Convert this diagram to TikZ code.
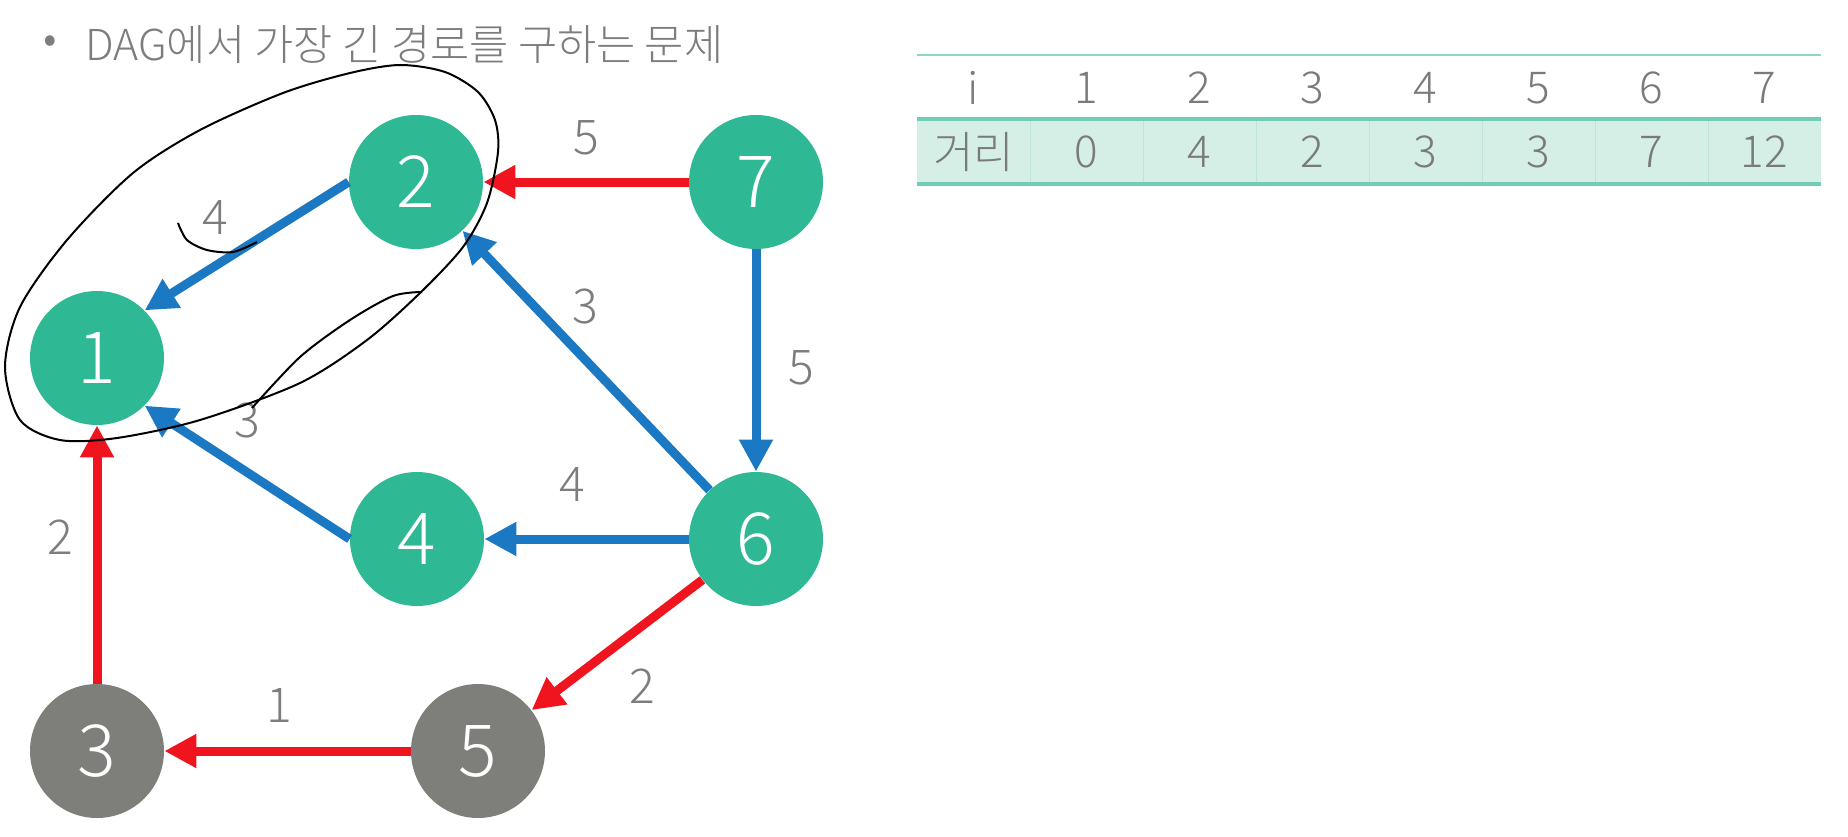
\documentclass[tikz,border=0pt]{standalone}
\usepackage{fontspec}
\setmainfont{Noto Sans CJK KR}[UprightFont={* Light}]
\usetikzlibrary{arrows.meta}
\definecolor{vtxgreen}{RGB}{46,184,147}
\definecolor{vtxgray}{RGB}{126,127,122}
\definecolor{pathred}{RGB}{240,20,30}
\definecolor{edgeblue}{RGB}{27,120,194}
\definecolor{labgray}{RGB}{125,125,125}
\definecolor{rulegreen}{RGB}{110,205,180}
\definecolor{rowgreen}{RGB}{213,239,231}
\definecolor{sepgreen}{RGB}{192,228,216}
\tikzset{
  vtx/.style={circle,fill=vtxgreen,minimum size=67pt,inner sep=0pt,text=white,font=\fontsize{36}{36}\selectfont},
  donevtx/.style={vtx,fill=vtxgray},
  bedge/.style={draw=edgeblue,line width=4.5pt,-{Triangle[length=16pt,width=16pt]}},
  redge/.style={draw=pathred,line width=4.5pt,-{Triangle[length=16pt,width=16pt]}},
  wlab/.style={text=labgray,inner sep=0pt,font=\fontsize{24}{24}\selectfont},
  titletext/.style={text=labgray,inner sep=0pt,font=\fontsize{21.3}{22}\selectfont},
  cell/.style={text=black!52,inner sep=0pt,font=\fontsize{22}{22}\selectfont},
  pen/.style={black,line width=1pt}
}
\newcommand{\wlabel}[3]{\node[wlab] (#1) at (#2) {#3};}

\begin{document}
\begin{tikzpicture}[x=0.5pt,y=-0.5pt]
  \useasboundingbox (0,0) rectangle (1848,836);
  % title line
  \node[titletext] (bul) at (50,45) {•};
  \node[titletext,anchor=west] (title) at (85,45) {DAG에서 가장 긴 경로를 구하는 문제};
  % vertices
  \node[vtx] (n1) at (97,358) {1};
  \node[vtx] (n2) at (416,182) {2};
  \node[donevtx] (n3) at (97,751) {3};
  \node[vtx] (n4) at (417,539) {4};
  \node[donevtx] (n5) at (478,751) {5};
  \node[vtx] (n6) at (756,539) {6};
  \node[vtx] (n7) at (756,182) {7};
  % edges
  \draw[redge] (n7) -- (n2);
  \draw[bedge] (n2.west) -- (n1.45);
  \draw[bedge] (n6) -- (n2);
  \draw[bedge] (n7) -- (n6);
  \draw[bedge] (n4.west) -- (n1.-45);
  \draw[bedge] (n6) -- (n4);
  \draw[redge] (n3) -- (n1);
  \draw[redge] (n6) -- (n5);
  \draw[redge] (n5) -- (n3);
  % weights
  \wlabel{w72}{586,138}{5}
  \wlabel{w21}{215,218}{4}
  \wlabel{w62}{585,306}{3}
  \wlabel{w76}{801,368}{5}
  \wlabel{w41}{247,420}{3}
  \wlabel{w64}{572,484}{4}
  \wlabel{w31}{60,537}{2}
  \wlabel{w65}{642,686}{2}
  \wlabel{w53}{279,705}{1}
  % pen marks
  \draw[pen] plot[smooth cycle] coordinates {(400,65) (445,72) (478,92) (495,120) (498,152) (487,203) (463,247) (420,293) (367,340) (300,383) (200,420) (117,438) (60,440) (20,420) (5,367) (20,307) (67,240) (133,173) (200,130) (283,93) (350,73)};
  \draw[pen] plot[smooth] coordinates {(178,223) (187,240) (207,250) (233,252) (257,242)};
  \draw[pen] plot[smooth] coordinates {(422,292) (393,296) (350,320) (300,357) (252,408)};
  % distance table
  \fill[rowgreen] (917,119) rectangle (1821,184);
  \foreach \k in {1,...,7}
    \draw[sepgreen,line width=0.5pt] ({917+113*\k},119) -- ({917+113*\k},184);
  \draw[rulegreen!80,line width=1pt] (917,55) -- (1821,55);
  \draw[rulegreen,line width=1.6pt] (917,119) -- (1821,119);
  \draw[rulegreen,line width=1.6pt] (917,184) -- (1821,184);
  \node[cell] (h0) at (973.5,88) {i};
  \foreach \v [count=\c] in {1,...,7}
    \node[cell] (h\c) at ({973.5+113*\c},88) {\v};
  \node[cell] (d0) at (973.5,152) {거리};
  \foreach \v [count=\c] in {0,4,2,3,3,7,12}
    \node[cell] (d\c) at ({973.5+113*\c},152) {\v};
\end{tikzpicture}
\end{document}
